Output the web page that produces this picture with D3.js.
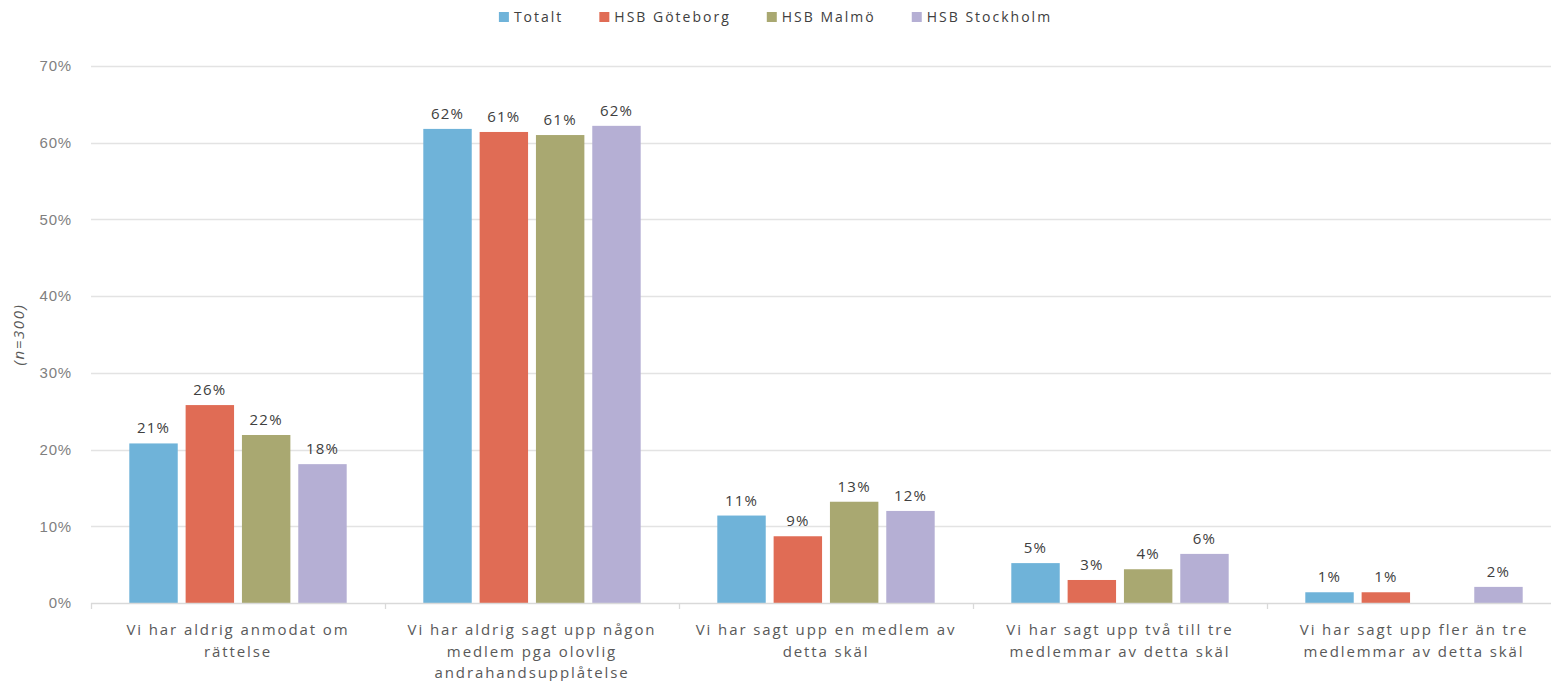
<!DOCTYPE html>
<html>
<head>
<meta charset="utf-8">
<script src="https://cdn.jsdelivr.net/npm/d3@7"></script>
<style>
  html, body { margin: 0; padding: 0; background: #fff; }
  svg { display: block; font-family: "Open Sans", "DejaVu Sans", sans-serif; }
</style>
</head>
<body>
<svg id="chart" width="1551" height="681"></svg>
<script>
// Survey answers, one group of bars per answer
const categories = [
  ["Vi har aldrig anmodat om", "rättelse"],
  ["Vi har aldrig sagt upp någon", "medlem pga olovlig", "andrahandsupplåtelse"],
  ["Vi har sagt upp en medlem av", "detta skäl"],
  ["Vi har sagt upp två till tre", "medlemmar av detta skäl"],
  ["Vi har sagt upp fler än tre", "medlemmar av detta skäl"]
];
const seriesNames = ["Totalt", "HSB Göteborg", "HSB Malmö", "HSB Stockholm"];
const seriesColors = ["#6fb3d9", "#e06c55", "#a9a871", "#b5afd4"];

// Share of respondents (%), per series in category order; null = no bar
const totalt      = [20.8, 61.8, 11.4, 5.2, 1.4];
const goteborg    = [25.8, 61.4, 8.7, 3.0, 1.4];
const malmo       = [21.9, 61.0, 13.2, 4.4, null];
const stockholm   = [18.1, 62.2, 12.0, 6.4, 2.1];
const seriesValues = [totalt, goteborg, malmo, stockholm];

const yTicks = [0, 10, 20, 30, 40, 50, 60, 70];
const yTitle = "(n=300)";

const svg = d3.select("#chart");
const W = 1551, H = 681;
const margin = { top: 66, left: 91, bottom: 78 };
const plotRight = 1561;
const y0 = H - margin.bottom;

const x = d3.scaleBand()
  .domain(d3.range(categories.length))
  .range([margin.left, plotRight])
  .padding(0);

const xs = d3.scaleBand()
  .domain(d3.range(seriesNames.length))
  .range([0, x.bandwidth()])
  .paddingInner(0.14)
  .paddingOuter(0.68);

const y = d3.scaleLinear().domain([0, 70]).range([y0, margin.top]);

// Horizontal gridlines
svg.append("g")
  .selectAll("line")
  .data(yTicks.filter(t => t > 0))
  .join("line")
  .attr("x1", margin.left).attr("x2", W)
  .attr("y1", d => Math.round(y(d)) + 0.5).attr("y2", d => Math.round(y(d)) + 0.5)
  .attr("stroke", "#e3e3e3").attr("stroke-width", 1.3);

// Y axis labels
const yAxis = svg.append("g")
  .attr("transform", `translate(${margin.left},0)`)
  .call(d3.axisLeft(y).tickValues(yTicks).tickFormat(d => d + "%").tickSize(0).tickPadding(19));
yAxis.select(".domain").remove();
yAxis.selectAll("text")
  .attr("fill", "#7f7f7f")
  .style("font-size", "15px")
  .style("letter-spacing", "0.8px");

// Y axis title
svg.append("text")
  .attr("transform", `translate(24,${(y0 + margin.top) / 2}) rotate(-90)`)
  .attr("text-anchor", "middle")
  .attr("fill", "#595959")
  .style("font-size", "15px")
  .style("font-style", "italic")
  .style("letter-spacing", "1.6px")
  .text(yTitle);

// Bars
const groups = svg.append("g")
  .selectAll("g")
  .data(categories.map((c, i) => i))
  .join("g")
  .attr("transform", i => `translate(${x(i)},0)`);

groups.selectAll("rect")
  .data(ci => seriesValues.map((vals, si) => ({ si, v: vals[ci] })).filter(d => d.v != null))
  .join("rect")
  .attr("x", d => xs(d.si))
  .attr("width", xs.bandwidth())
  .attr("y", d => y(d.v))
  .attr("height", d => y0 - y(d.v))
  .attr("fill", d => seriesColors[d.si]);

// Data labels
groups.selectAll("text.val")
  .data(ci => seriesValues.map((vals, si) => ({ si, v: vals[ci] })).filter(d => d.v != null))
  .join("text")
  .attr("class", "val")
  .attr("x", d => xs(d.si) + xs.bandwidth() / 2)
  .attr("y", d => y(d.v) - 10)
  .attr("text-anchor", "middle")
  .attr("fill", "#404040")
  .style("font-size", "15px")
  .style("letter-spacing", "1.2px")
  .text(d => Math.round(d.v) + "%");

// X axis line and category separators
svg.append("line")
  .attr("x1", margin.left).attr("x2", W)
  .attr("y1", y0 + 0.5).attr("y2", y0 + 0.5)
  .attr("stroke", "#d9d9d9").attr("stroke-width", 1.3);

svg.append("g")
  .selectAll("line")
  .data(d3.range(categories.length + 1))
  .join("line")
  .attr("x1", i => Math.round(i < categories.length ? x(i) : plotRight) + 0.5)
  .attr("x2", i => Math.round(i < categories.length ? x(i) : plotRight) + 0.5)
  .attr("y1", y0).attr("y2", y0 + 6)
  .attr("stroke", "#d9d9d9").attr("stroke-width", 1.3);

// Category labels
svg.append("g")
  .selectAll("text")
  .data(categories)
  .join("text")
  .attr("text-anchor", "middle")
  .attr("fill", "#595959")
  .style("font-size", "15px")
  .style("letter-spacing", "1.9px")
  .attr("transform", (d, i) => `translate(${x(i) + x.bandwidth() / 2},${y0 + 32})`)
  .selectAll("tspan")
  .data(d => d)
  .join("tspan")
  .attr("x", 0)
  .attr("dy", (d, i) => i === 0 ? 0 : 21.5)
  .text(d => d);

// Legend
const legendItems = seriesNames.map((n, i) => ({ n, c: seriesColors[i] }));
const legend = svg.append("g");
const itemsG = legend.selectAll("g")
  .data(legendItems)
  .join("g");
itemsG.append("rect")
  .attr("width", 10).attr("height", 10)
  .attr("y", -10)
  .attr("fill", d => d.c);
itemsG.append("text")
  .attr("x", 15)
  .attr("y", 0)
  .attr("fill", "#404040")
  .style("font-size", "14px")
  .style("letter-spacing", "2px")
  .text(d => d.n);
let cx = 0;
itemsG.each(function () {
  const w = this.getBBox().width;
  d3.select(this).attr("transform", `translate(${cx},22)`);
  cx += w + 36;
});
const totalW = cx - 36;
legend.attr("transform", `translate(${(W - totalW) / 2},0)`);
</script>
</body>
</html>
